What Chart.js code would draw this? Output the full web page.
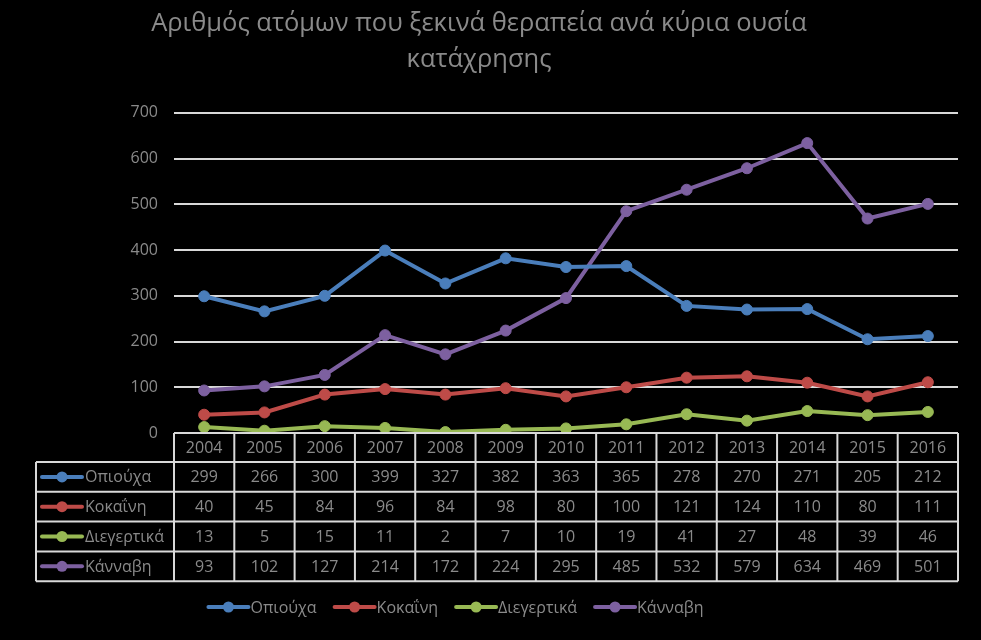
<!DOCTYPE html>
<html>
<head>
<meta charset="utf-8">
<script src="https://cdn.jsdelivr.net/npm/chart.js@4.4.0/dist/chart.umd.min.js"></script>
<style>
  html, body { margin: 0; padding: 0; background: #000; }
  #wrap { width: 981px; height: 640px; }
</style>
</head>
<body>
<div id="wrap"><canvas id="myChart"></canvas></div>
<script>
const years = ['2004', '2005', '2006', '2007', '2008', '2009', '2010', '2011', '2012', '2013', '2014', '2015', '2016'];
const opiouxa = [299, 266, 300, 399, 327, 382, 363, 365, 278, 270, 271, 205, 212];
const kokaini = [40, 45, 84, 96, 84, 98, 80, 100, 121, 124, 110, 80, 111];
const diegertika = [13, 5, 15, 11, 2, 7, 10, 19, 41, 27, 48, 39, 46];
const kannavi = [93, 102, 127, 214, 172, 224, 295, 485, 532, 579, 634, 469, 501];
const seriesNames = ['Οπιούχα', 'Κοκαΐνη', 'Διεγερτικά', 'Κάνναβη'];
const yTicks = [0, 100, 200, 300, 400, 500, 600, 700];

const colors = ['#4a7ebb', '#be4b48', '#98b954', '#7d60a0'];
const textColor = '#8a8a8a';
const lineColor = '#d9d9d9';
const fontFamily = '"Open Sans", "Noto Sans", sans-serif';

// little line + dot used in the table and the legend
function drawMarker(ctx, x, y, color) {
  ctx.save();
  ctx.strokeStyle = color;
  ctx.lineWidth = 4;
  ctx.lineCap = 'round';
  ctx.beginPath();
  ctx.moveTo(x, y);
  ctx.lineTo(x + 40, y);
  ctx.stroke();
  ctx.fillStyle = color;
  ctx.beginPath();
  ctx.arc(x + 20, y, 5.5, 0, Math.PI * 2);
  ctx.fill();
  ctx.restore();
}

const dataTable = {
  id: 'dataTable',
  afterDraw(chart) {
    const ctx = chart.ctx;
    const area = chart.chartArea;
    const x = chart.scales.x;
    const allSeries = [opiouxa, kokaini, diegertika, kannavi];
    const colW = (area.right - area.left) / years.length;
    const top = area.bottom;
    const headH = 29;
    const rowH = 29.8;
    const leftEdge = 36;
    const bottom = top + headH + rowH * allSeries.length;

    ctx.save();
    ctx.strokeStyle = lineColor;
    ctx.lineWidth = 2;
    ctx.beginPath();
    ctx.moveTo(area.left, top);
    ctx.lineTo(area.right, top);
    for (let i = 0; i <= allSeries.length; i++) {
      const yy = top + headH + rowH * i;
      ctx.moveTo(leftEdge, yy);
      ctx.lineTo(area.right, yy);
    }
    for (let i = 0; i <= years.length; i++) {
      const xx = area.left + colW * i;
      ctx.moveTo(xx, top);
      ctx.lineTo(xx, bottom);
    }
    ctx.moveTo(leftEdge, top + headH);
    ctx.lineTo(leftEdge, bottom);
    ctx.stroke();

    ctx.fillStyle = textColor;
    ctx.font = '16px ' + fontFamily;
    ctx.textAlign = 'center';
    ctx.textBaseline = 'middle';
    years.forEach((yr, i) => {
      ctx.fillText(yr, x.getPixelForValue(i), top + headH / 2 + 1);
    });
    allSeries.forEach((vals, r) => {
      const cy = top + headH + rowH * r + rowH / 2 + 1;
      vals.forEach((v, i) => {
        ctx.fillText(String(v), x.getPixelForValue(i), cy);
      });
      drawMarker(ctx, 42, cy - 1, colors[r]);
      ctx.textAlign = 'left';
      ctx.fillText(seriesNames[r], 85, cy);
      ctx.textAlign = 'center';
    });

    // legend under the table
    ctx.textAlign = 'left';
    const widths = seriesNames.map(n => 42 + ctx.measureText(n).width);
    const total = widths.reduce((a, b) => a + b, 0) + 18 * (widths.length - 1);
    let lx = 456 - total / 2;
    const ly = 607;
    seriesNames.forEach((n, i) => {
      drawMarker(ctx, lx, ly, colors[i]);
      ctx.fillText(n, lx + 42, ly + 1);
      lx += widths[i] + 18;
    });
    ctx.restore();
  }
};

const ctx = document.getElementById('myChart');
const allData = [opiouxa, kokaini, diegertika, kannavi];

new Chart(ctx, {
  type: 'line',
  data: {
    labels: years,
    datasets: allData.map((vals, i) => ({
      label: seriesNames[i],
      data: vals,
      borderColor: colors[i],
      backgroundColor: colors[i],
      borderWidth: 4,
      pointRadius: 5.5,
      pointHoverRadius: 5.5,
      pointBorderWidth: 1,
      tension: 0
    }))
  },
  options: {
    responsive: true,
    maintainAspectRatio: false,
    animation: false,
    layout: { padding: { left: 0, right: 23, top: 0, bottom: 207 } },
    plugins: {
      legend: { display: false },
      tooltip: { enabled: false },
      title: {
        display: true,
        text: ['Αριθμός ατόμων που ξεκινά θεραπεία ανά κύρια ουσία', 'κατάχρησης'],
        color: '#8a8a8a',
        font: { family: fontFamily, size: 25.5, weight: 'normal', lineHeight: 1.41 },
        padding: { top: 6, bottom: 35 }
      }
    },
    scales: {
      x: {
        type: 'category',
        display: false,
        offset: true
      },
      y: {
        min: 0,
        max: 700,
        afterFit(scale) { scale.width = 174; },
        afterBuildTicks(scale) { scale.ticks = yTicks.map(v => ({ value: v })); },
        ticks: {
          color: textColor,
          padding: 16,
          font: { family: fontFamily, size: 16 }
        },
        grid: { color: lineColor, lineWidth: 2, drawTicks: false },
        border: { display: false }
      }
    }
  },
  plugins: [dataTable]
});
</script>
</body>
</html>
